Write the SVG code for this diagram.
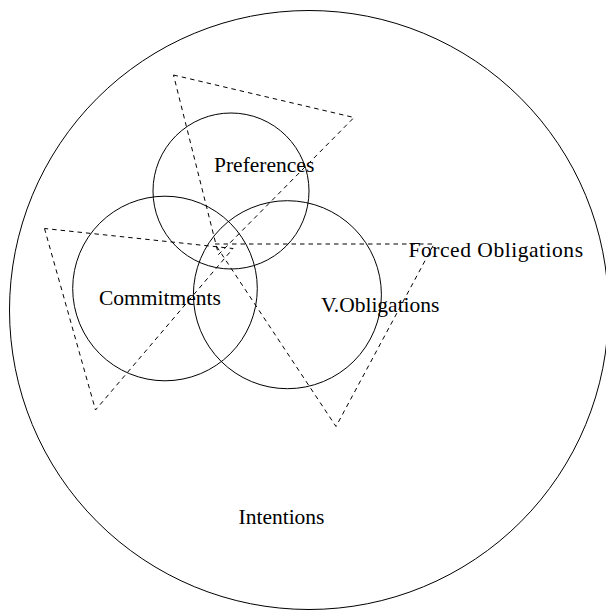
<svg xmlns="http://www.w3.org/2000/svg" width="606" height="612" viewBox="0 0 606 612">
<style>
  .c { fill: none; stroke: #000; stroke-width: 1; }
  .t { fill: none; stroke: #000; stroke-width: 1; stroke-dasharray: 4.5 4; stroke-linejoin: miter; }
  text { font-family: "Liberation Serif", "Times New Roman", serif; font-size: 21.5px; fill: #000; }
</style>
<rect width="606" height="612" fill="#fff"/>
<g id="intentions">
  <circle class="c" cx="309" cy="310" r="299.5"/>
  <text x="238.5" y="524">Intentions</text>
</g>
<g id="preferences">
  <circle class="c" cx="231" cy="191" r="78"/>
  <text x="214" y="172">Preferences</text>
</g>
<g id="commitments">
  <circle class="c" cx="165" cy="288.5" r="92.3"/>
  <text x="99" y="305">Commitments</text>
</g>
<g id="v-obligations">
  <circle class="c" cx="287.4" cy="294.7" r="94"/>
  <text x="321" y="311.5">V.Obligations</text>
</g>
<g id="triangles">
  <polygon id="tri-preferences" class="t" points="173.5,75 354,117.5 218.5,254.5"/>
  <polygon id="tri-commitments" class="t" points="44.5,228.5 95.5,410 233,248.5"/>
  <polygon id="tri-forced" class="t" points="215,244 434,244 336,426.5"/>
</g>
<g id="forced-obligations">
  <text x="408.5" y="257" textLength="174.5" lengthAdjust="spacing">Forced Obligations</text>
</g>
</svg>
